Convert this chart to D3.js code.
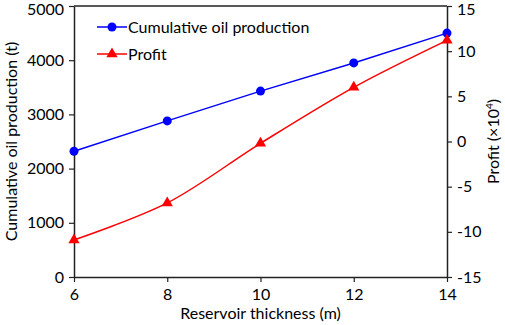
<!DOCTYPE html>
<html>
<head>
<meta charset="utf-8">
<script src="https://cdn.jsdelivr.net/npm/d3@7"></script>
<style>
  body { margin: 0; background: #fff; }
  text { font-family: Lato, "Open Sans", sans-serif; fill: #000; }
</style>
</head>
<body>
<div id="chartDiv"></div>
<script>
// data
const thickness = [6, 8, 10, 12, 14];
const oilProduction = [2320, 2880, 3430, 3950, 4500];
const profit = [-10.9, -6.8, -0.2, 6.0, 11.2];
const leftTicks = [0, 1000, 2000, 3000, 4000, 5000];
const rightTicks = [-15, -10, -5, 0, 5, 10, 15];

const W = 505, H = 325;
const m = { t: 6, r: 58, b: 48, l: 74 };
const iw = W - m.l - m.r, ih = H - m.t - m.b;
const fs = 16;

const svg = d3.select("#chartDiv").append("svg")
  .attr("width", W).attr("height", H);
const g = svg.append("g").attr("transform", `translate(${m.l},${m.t})`);

const x = d3.scaleLinear().domain([6, 14]).range([0, iw]);
const yL = d3.scaleLinear().domain([0, 5000]).range([ih, 0]);
const yR = d3.scaleLinear().domain([-15, 15]).range([ih, 0]);

function styleAxis(sel) {
  sel.selectAll("path").attr("stroke", "#222").attr("stroke-width", 1.5);
  sel.selectAll("line").attr("stroke", "#222").attr("stroke-width", 1.2);
  sel.selectAll("text").attr("font-size", fs).attr("fill", "#000")
    .style("font-family", "Lato, 'Open Sans', sans-serif");
}

g.append("g").attr("transform", `translate(0,${ih})`)
  .call(d3.axisBottom(x).tickValues(thickness).tickSize(5).tickSizeOuter(0).tickPadding(7))
  .call(styleAxis);
g.append("g")
  .call(d3.axisLeft(yL).tickValues(leftTicks).tickSize(5).tickSizeOuter(0).tickPadding(5)
    .tickFormat(d3.format("d")))
  .call(styleAxis);
g.append("g").attr("transform", `translate(${iw},0)`)
  .call(d3.axisRight(yR).tickValues(rightTicks).tickSize(5).tickSizeOuter(0).tickPadding(5)
    .tickFormat(d => d < 0 ? "-" + Math.abs(d) : d))
  .call(styleAxis);
// keep the top labels inside the picture
g.selectAll(".tick text").filter(d => d === 5000 || d === 15).attr("dy", "0.5em");
// top frame line
g.append("line").attr("x1", 0).attr("x2", iw).attr("y1", 0).attr("y2", 0)
  .attr("stroke", "#222").attr("stroke-width", 1.5);

// axis titles
svg.append("text")
  .attr("x", m.l + iw / 2).attr("y", H - 6)
  .attr("text-anchor", "middle").attr("font-size", fs)
  .text("Reservoir thickness (m)");
svg.append("text")
  .attr("transform", `translate(17,${m.t + ih / 2}) rotate(-90)`)
  .attr("text-anchor", "middle").attr("font-size", fs)
  .text("Cumulative oil production (t)");
const rt = svg.append("text")
  .attr("transform", `translate(499,${m.t + ih / 2}) rotate(-90)`)
  .attr("text-anchor", "middle").attr("font-size", fs);
rt.append("tspan").text("Profit (\u00d710");
rt.append("tspan").attr("font-size", 10).attr("dy", -6).text("4");
rt.append("tspan").attr("dy", 6).text(")");

// series
const oilData = thickness.map((t, i) => ({ x: t, y: oilProduction[i] }));
const profitData = thickness.map((t, i) => ({ x: t, y: profit[i] }));

g.append("path").datum(oilData)
  .attr("fill", "none").attr("stroke", "#0000ff").attr("stroke-width", 1.5)
  .attr("d", d3.line().x(d => x(d.x)).y(d => yL(d.y)));
g.append("path").datum(profitData)
  .attr("fill", "none").attr("stroke", "#ff0000").attr("stroke-width", 1.5)
  .attr("d", d3.line().curve(d3.curveCatmullRom.alpha(0.5)).x(d => x(d.x)).y(d => yR(d.y)));

const tri = d3.symbol().type(d3.symbolTriangle).size(55);

g.selectAll(".oilDot").data(oilData).enter().append("circle")
  .attr("cx", d => x(d.x)).attr("cy", d => yL(d.y)).attr("r", 4.5)
  .attr("fill", "#0000ff");
g.selectAll(".profitTri").data(profitData).enter().append("path")
  .attr("d", tri)
  .attr("transform", d => `translate(${x(d.x)},${yR(d.y)})`)
  .attr("fill", "#ff0000");

// legend
const legend = [
  { name: "Cumulative oil production", color: "#0000ff", shape: "circle", y: 27 },
  { name: "Profit", color: "#ff0000", shape: "tri", y: 54 }
];
const lg = svg.append("g");
legend.forEach(l => {
  lg.append("line").attr("x1", 97).attr("x2", 127).attr("y1", l.y).attr("y2", l.y)
    .attr("stroke", l.color).attr("stroke-width", 1.5);
  if (l.shape === "circle") {
    lg.append("circle").attr("cx", 112).attr("cy", l.y).attr("r", 4.5).attr("fill", l.color);
  } else {
    lg.append("path").attr("d", tri).attr("transform", `translate(112,${l.y})`).attr("fill", l.color);
  }
  lg.append("text").attr("x", 128).attr("y", l.y + 6).attr("font-size", fs).text(l.name);
});
</script>
</body>
</html>
